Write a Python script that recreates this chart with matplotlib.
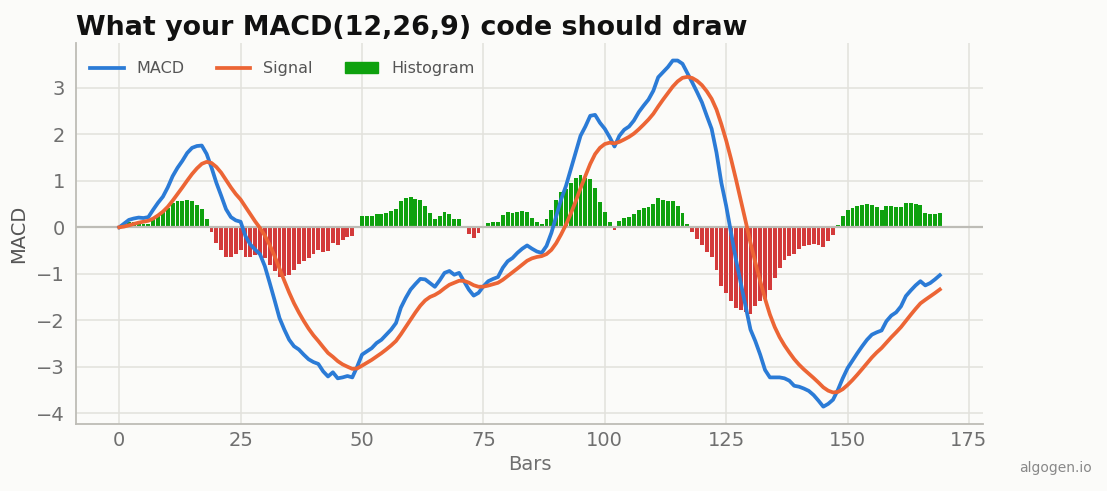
import matplotlib
matplotlib.use("Agg")
import matplotlib.pyplot as plt
import numpy as np

# ---------------------------------------------------------------------------
# Data
# ---------------------------------------------------------------------------
bars = np.arange(170)

macd = [
    0.00, 0.08, 0.16, 0.19, 0.21, 0.20, 0.22, 0.38, 0.53, 0.66,
    0.86, 1.10, 1.28, 1.43, 1.60, 1.71, 1.75, 1.76, 1.58, 1.29,
    0.96, 0.68, 0.39, 0.22, 0.15, 0.12, -0.19, -0.37, -0.48, -0.58,
    -0.84, -1.20, -1.57, -1.95, -2.20, -2.42, -2.56, -2.63, -2.74, -2.84,
    -2.90, -2.94, -3.10, -3.21, -3.12, -3.25, -3.23, -3.20, -3.23, -3.00,
    -2.74, -2.67, -2.60, -2.49, -2.42, -2.31, -2.20, -2.06, -1.73, -1.52,
    -1.34, -1.22, -1.11, -1.12, -1.20, -1.28, -1.14, -0.98, -0.94, -1.02,
    -0.98, -1.16, -1.34, -1.47, -1.41, -1.27, -1.16, -1.11, -1.07, -0.87,
    -0.73, -0.66, -0.55, -0.46, -0.39, -0.46, -0.52, -0.55, -0.40, -0.12,
    0.24, 0.60, 0.89, 1.25, 1.61, 1.97, 2.17, 2.40, 2.42, 2.25,
    2.12, 1.94, 1.74, 1.97, 2.10, 2.17, 2.30, 2.48, 2.62, 2.75,
    2.94, 3.23, 3.34, 3.45, 3.59, 3.59, 3.52, 3.32, 3.12, 2.91,
    2.69, 2.40, 2.12, 1.61, 0.96, 0.46, -0.12, -0.69, -1.20, -1.70,
    -2.20, -2.45, -2.74, -3.07, -3.23, -3.23, -3.23, -3.25, -3.30, -3.41,
    -3.43, -3.47, -3.52, -3.61, -3.73, -3.86, -3.80, -3.71, -3.50, -3.25,
    -3.03, -2.87, -2.71, -2.56, -2.42, -2.31, -2.26, -2.22, -2.02, -1.90,
    -1.83, -1.70, -1.48, -1.36, -1.25, -1.16, -1.25, -1.20, -1.12, -1.03,
]

signal = [
    0.000, 0.016, 0.045, 0.074, 0.101, 0.121, 0.141, 0.189, 0.257, 0.338,
    0.442, 0.574, 0.715, 0.858, 1.006, 1.147, 1.268, 1.366, 1.409, 1.385,
    1.300, 1.176, 1.019, 0.859, 0.717, 0.598, 0.440, 0.278, 0.126, -0.015,
    -0.180, -0.384, -0.621, -0.887, -1.150, -1.404, -1.635, -1.834, -2.015, -2.180,
    -2.324, -2.447, -2.578, -2.704, -2.787, -2.880, -2.950, -3.000, -3.046, -3.037,
    -2.978, -2.916, -2.853, -2.780, -2.708, -2.628, -2.542, -2.446, -2.303, -2.146,
    -1.985, -1.832, -1.688, -1.574, -1.499, -1.455, -1.392, -1.310, -1.236, -1.193,
    -1.150, -1.152, -1.190, -1.246, -1.279, -1.277, -1.254, -1.225, -1.194, -1.129,
    -1.049, -0.971, -0.887, -0.802, -0.720, -0.668, -0.638, -0.620, -0.576, -0.485,
    -0.340, -0.152, 0.056, 0.295, 0.558, 0.840, 1.106, 1.365, 1.576, 1.711,
    1.793, 1.822, 1.806, 1.839, 1.891, 1.947, 2.018, 2.110, 2.212, 2.320,
    2.444, 2.601, 2.749, 2.889, 3.029, 3.141, 3.217, 3.238, 3.214, 3.153,
    3.060, 2.928, 2.766, 2.535, 2.220, 1.868, 1.470, 1.038, 0.590, 0.132,
    -0.334, -0.757, -1.154, -1.537, -1.876, -2.147, -2.364, -2.541, -2.693, -2.836,
    -2.955, -3.058, -3.150, -3.242, -3.340, -3.444, -3.515, -3.554, -3.543, -3.484,
    -3.393, -3.288, -3.172, -3.050, -2.924, -2.801, -2.693, -2.598, -2.482, -2.366,
    -2.259, -2.147, -2.014, -1.883, -1.756, -1.637, -1.560, -1.488, -1.414, -1.337,
]

histogram = [
    0.000, 0.064, 0.115, 0.116, 0.109, 0.079, 0.079, 0.191, 0.273, 0.322,
    0.418, 0.526, 0.565, 0.572, 0.594, 0.563, 0.482, 0.394, 0.171, -0.095,
    -0.340, -0.496, -0.629, -0.639, -0.567, -0.478, -0.630, -0.648, -0.606, -0.565,
    -0.660, -0.816, -0.949, -1.063, -1.050, -1.016, -0.925, -0.796, -0.725, -0.660,
    -0.576, -0.493, -0.522, -0.506, -0.333, -0.370, -0.280, -0.200, -0.184, 0.037,
    0.238, 0.246, 0.253, 0.290, 0.288, 0.318, 0.342, 0.386, 0.573, 0.626,
    0.645, 0.612, 0.578, 0.454, 0.299, 0.175, 0.252, 0.330, 0.296, 0.173,
    0.170, -0.008, -0.150, -0.224, -0.131, 0.007, 0.094, 0.115, 0.124, 0.259,
    0.319, 0.311, 0.337, 0.342, 0.330, 0.208, 0.118, 0.070, 0.176, 0.365,
    0.580, 0.752, 0.834, 0.955, 1.052, 1.130, 1.064, 1.035, 0.844, 0.539,
    0.327, 0.118, -0.066, 0.131, 0.209, 0.223, 0.282, 0.370, 0.408, 0.430,
    0.496, 0.629, 0.591, 0.561, 0.561, 0.449, 0.303, 0.082, -0.094, -0.243,
    -0.370, -0.528, -0.646, -0.925, -1.260, -1.408, -1.590, -1.728, -1.790, -1.832,
    -1.866, -1.693, -1.586, -1.533, -1.354, -1.083, -0.866, -0.709, -0.607, -0.574,
    -0.475, -0.412, -0.370, -0.368, -0.390, -0.416, -0.285, -0.156, 0.043, 0.234,
    0.363, 0.418, 0.462, 0.490, 0.504, 0.491, 0.433, 0.378, 0.462, 0.466,
    0.429, 0.447, 0.534, 0.523, 0.506, 0.477, 0.310, 0.288, 0.294, 0.307,
]

# ---------------------------------------------------------------------------
# Aesthetics
# ---------------------------------------------------------------------------
BACKGROUND  = "#fbfbf9"
GRID_COLOR  = "#e2e1dc"
SPINE_COLOR = "#bdbcb6"
TEXT_COLOR  = "#6f6f6f"
MACD_COLOR  = "#2b7bd6"
SIG_COLOR   = "#ec6535"
POS_COLOR   = "#0ea10e"
NEG_COLOR   = "#d33a3a"

fig = plt.figure(figsize=(11.07, 4.91), dpi=100)
fig.patch.set_facecolor(BACKGROUND)
ax = fig.add_axes([0.0687, 0.1365, 0.8193, 0.7755])
ax.set_facecolor(BACKGROUND)

hist = np.array(histogram)
colors = [POS_COLOR if v >= 0 else NEG_COLOR for v in hist]
ax.bar(bars, hist, width=0.8, color=colors, label="Histogram", zorder=2)
ax.axhline(0, color=SPINE_COLOR, linewidth=1.6, zorder=2.5)
ax.plot(bars, macd, color=MACD_COLOR, linewidth=2.7, label="MACD", zorder=3)
ax.plot(bars, signal, color=SIG_COLOR, linewidth=2.7, label="Signal", zorder=3)

ax.set_xticks(np.arange(0, 176, 25))
ax.set_yticks(np.arange(-4, 4))
ax.grid(True, color=GRID_COLOR, linewidth=1.1, zorder=0)
ax.set_axisbelow(True)
for side in ("top", "right"):
    ax.spines[side].set_visible(False)
for side in ("left", "bottom"):
    ax.spines[side].set_color(SPINE_COLOR)
    ax.spines[side].set_linewidth(1.3)
ax.tick_params(length=0, labelsize=14, labelcolor=TEXT_COLOR)
ax.tick_params(axis="x", pad=5)
ax.tick_params(axis="y", pad=8)

ax.set_xlabel("Bars", fontsize=14, color=TEXT_COLOR, labelpad=4)
ax.set_ylabel("MACD", fontsize=14, color="#555555", labelpad=6)
ax.set_title("What your MACD(12,26,9) code should draw", loc="left",
             fontsize=19.4, fontweight="bold", color="#111111", pad=6, x=0.0)

handles, labels = ax.get_legend_handles_labels()
order = [labels.index(n) for n in ("MACD", "Signal", "Histogram")]
leg = ax.legend([handles[i] for i in order], [labels[i] for i in order],
                loc="upper left", ncol=3, frameon=False, fontsize=11.5,
                handlelength=2.1, handletextpad=0.8, columnspacing=2.0,
                bbox_to_anchor=(0.0, 0.99))
for t in leg.get_texts():
    t.set_color("#555555")
leg.legend_handles[2].set_color(POS_COLOR)

fig.text(0.9535, 0.047, "algogen.io", ha="center", va="center",
         fontsize=10, color="#888888")

fig.savefig("out.png", dpi=100, facecolor=BACKGROUND)
